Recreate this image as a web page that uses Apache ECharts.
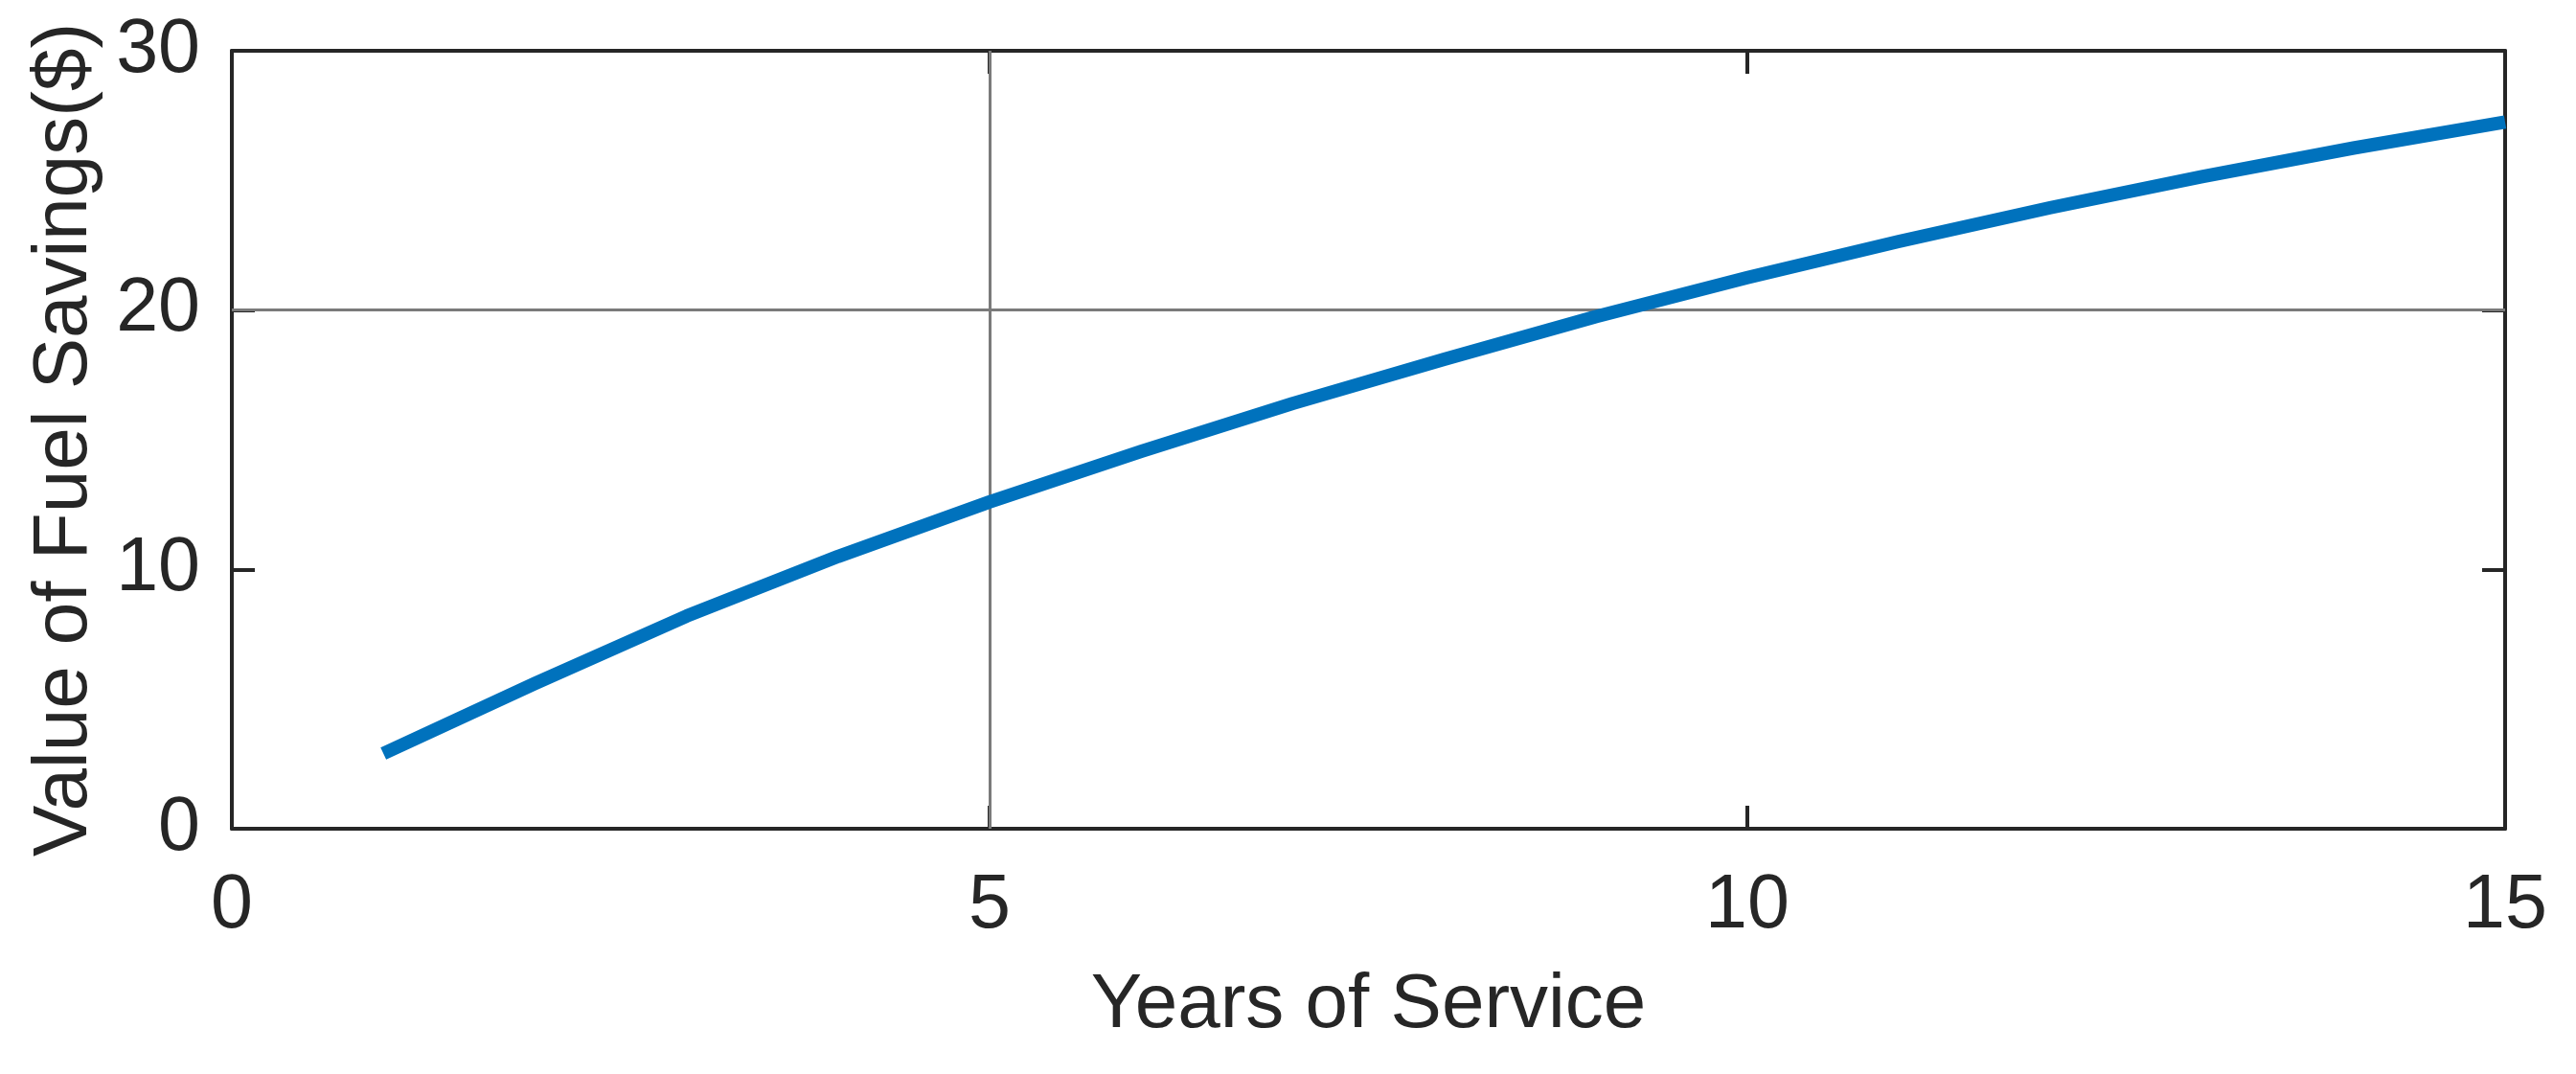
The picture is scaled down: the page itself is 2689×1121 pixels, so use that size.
<!DOCTYPE html>
<html>
<head>
<meta charset="utf-8">
<script src="https://cdn.jsdelivr.net/npm/echarts@6/dist/echarts.min.js"></script>
<style>
html,body{margin:0;padding:0;background:#fff;}
#chart{width:2689px;height:1121px;}
</style>
</head>
<body>
<div id="chart"></div>
<script>
// Data
const years = [1, 2, 3, 4, 5, 6, 7, 8, 9, 10, 11, 12, 13, 14, 15];
const savings = [2.9, 5.6, 8.2, 10.5, 12.6, 14.55, 16.4, 18.1, 19.75, 21.25, 22.65, 23.95, 25.15, 26.25, 27.25];
const xTicks = [0, 5, 10, 15];
const yTicks = [0, 10, 20, 30];
const refX = 5;
const refY = 20;
const xTitle = 'Years of Service';
const yTitle = 'Value of Fuel Savings($)';

const ink = '#262626';
const font = '"Liberation Sans", Arial, Helvetica, sans-serif';

const chart = echarts.init(document.getElementById('chart'), null, {renderer: 'canvas'});

function xAxisCfg(pos, showLabel) {
  return {
    type: 'value', position: pos, min: xTicks[0], max: xTicks[xTicks.length - 1], interval: 5,
    name: showLabel ? xTitle : '', nameLocation: 'middle', nameGap: 145,
    nameTextStyle: {fontSize: 80, color: ink, fontFamily: font},
    axisLine: {show: true, onZero: false, lineStyle: {color: ink, width: 4}},
    axisTick: {show: true, inside: true, length: 24, lineStyle: {color: ink, width: 4}},
    axisLabel: {show: showLabel, fontSize: 79, color: ink, fontFamily: font, margin: 42},
    splitLine: {show: false}
  };
}
function yAxisCfg(pos, showLabel) {
  return {
    type: 'value', position: pos, min: yTicks[0], max: yTicks[yTicks.length - 1], interval: 10,
    name: showLabel ? yTitle : '', nameLocation: 'middle', nameGap: 134,
    nameTextStyle: {fontSize: 80, color: ink, fontFamily: font},
    axisLine: {show: true, onZero: false, lineStyle: {color: ink, width: 4}},
    axisTick: {show: true, inside: true, length: 24, lineStyle: {color: ink, width: 4}},
    axisLabel: {show: showLabel, fontSize: 79, color: ink, fontFamily: font, margin: 33},
    splitLine: {show: false}
  };
}

chart.setOption({
  animation: false,
  backgroundColor: '#ffffff',
  grid: {left: 242, right: 74, top: 53, bottom: 256, containLabel: false},
  xAxis: [xAxisCfg('bottom', true), xAxisCfg('top', false)],
  yAxis: [yAxisCfg('left', true), yAxisCfg('right', false)],
  series: [{
    type: 'line',
    xAxisIndex: 0, yAxisIndex: 0,
    data: years.map((y, i) => [y, savings[i]]),
    showSymbol: false, symbol: 'none',
    lineStyle: {color: '#0072BD', width: 14, cap: 'butt', join: 'round'},
    z: 3,
    markLine: {
      silent: true, symbol: 'none', label: {show: false},
      lineStyle: {color: '#7a7a7a', width: 3, type: 'solid'},
      data: [{xAxis: refX}, {yAxis: refY}],
      z: 1
    }
  }]
});
</script>
</body>
</html>
